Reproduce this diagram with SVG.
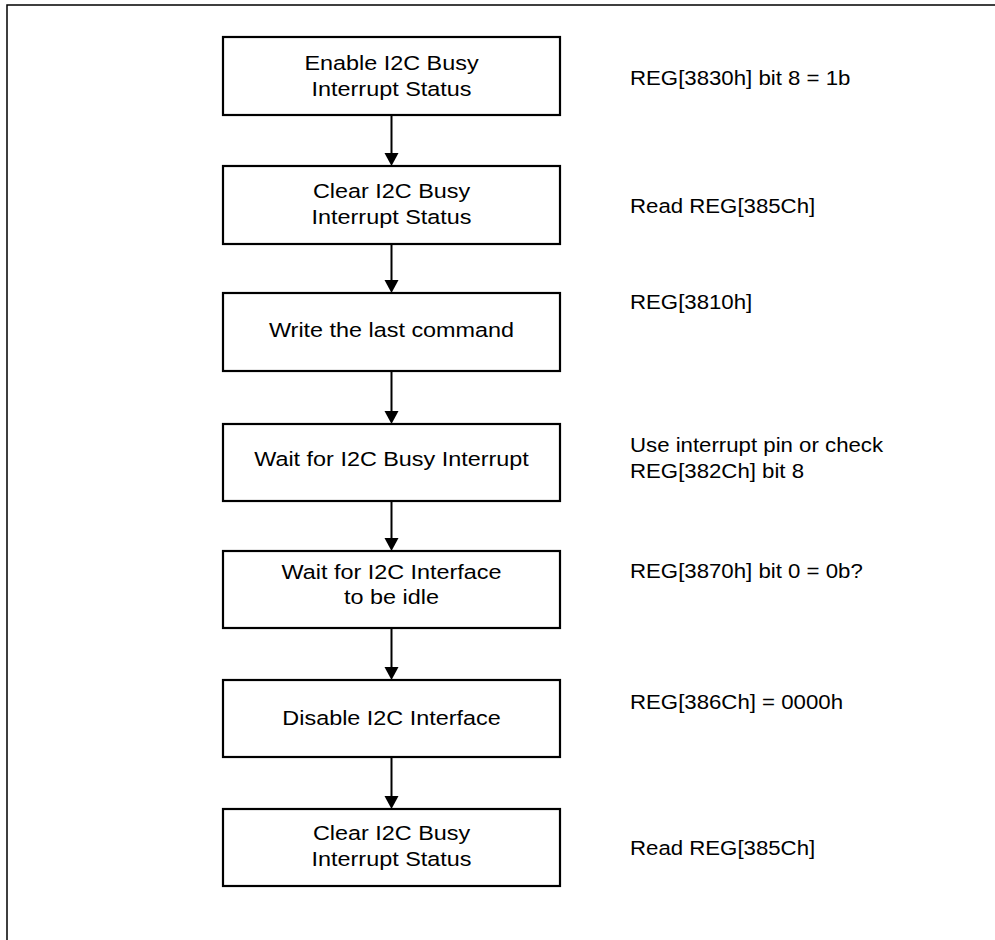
<svg xmlns="http://www.w3.org/2000/svg" width="995" height="940" viewBox="0 0 995 940">
<defs>
<style>
.box{fill:#fff;stroke:#000;stroke-width:2.2}
.t{font-family:"Liberation Sans",Arial,sans-serif;font-size:19.5px;fill:#000}
.c{text-anchor:middle}
.edge{stroke:#000;stroke-width:2;fill:none}
.head{fill:#000}
.frame{stroke:#000;stroke-width:1.5;fill:none}
</style>
</defs>
<rect width="995" height="940" fill="#fff"/>
<path class="frame" d="M7,940 L7,5 L995,5"/>

<g id="connectors">
<line class="edge" x1="391.5" y1="116" x2="391.5" y2="153"/><path class="head" d="M384.5,153 L398.5,153 L391.5,166 Z"/>
<line class="edge" x1="391.5" y1="245" x2="391.5" y2="280"/><path class="head" d="M384.5,280 L398.5,280 L391.5,293 Z"/>
<line class="edge" x1="391.5" y1="372" x2="391.5" y2="411"/><path class="head" d="M384.5,411 L398.5,411 L391.5,424 Z"/>
<line class="edge" x1="391.5" y1="502" x2="391.5" y2="538"/><path class="head" d="M384.5,538 L398.5,538 L391.5,551 Z"/>
<line class="edge" x1="391.5" y1="629" x2="391.5" y2="667"/><path class="head" d="M384.5,667 L398.5,667 L391.5,680 Z"/>
<line class="edge" x1="391.5" y1="758" x2="391.5" y2="796"/><path class="head" d="M384.5,796 L398.5,796 L391.5,809 Z"/>
</g>

<g id="n1">
<rect class="box" x="223" y="37" width="337" height="78"/>
<text class="t c" transform="translate(391.5,70) scale(1.2,1)">Enable I2C Busy</text>
<text class="t c" transform="translate(391.5,96) scale(1.2,1)">Interrupt Status</text>
</g>
<g id="n2">
<rect class="box" x="223" y="166" width="337" height="78"/>
<text class="t c" transform="translate(391.5,198) scale(1.2,1)">Clear I2C Busy</text>
<text class="t c" transform="translate(391.5,224) scale(1.2,1)">Interrupt Status</text>
</g>
<g id="n3">
<rect class="box" x="223" y="293" width="337" height="78"/>
<text class="t c" transform="translate(391.5,337) scale(1.2,1)">Write the last command</text>
</g>
<g id="n4">
<rect class="box" x="223" y="424" width="337" height="77"/>
<text class="t c" transform="translate(391.5,466) scale(1.2,1)">Wait for I2C Busy Interrupt</text>
</g>
<g id="n5">
<rect class="box" x="223" y="551" width="337" height="77"/>
<text class="t c" transform="translate(391.5,579) scale(1.2,1)">Wait for I2C Interface</text>
<text class="t c" transform="translate(391.5,604) scale(1.2,1)">to be idle</text>
</g>
<g id="n6">
<rect class="box" x="223" y="680" width="337" height="77"/>
<text class="t c" transform="translate(391.5,725) scale(1.2,1)">Disable I2C Interface</text>
</g>
<g id="n7">
<rect class="box" x="223" y="809" width="337" height="77"/>
<text class="t c" transform="translate(391.5,840) scale(1.2,1)">Clear I2C Busy</text>
<text class="t c" transform="translate(391.5,866) scale(1.2,1)">Interrupt Status</text>
</g>

<g id="notes">
<text class="t" transform="translate(630,85) scale(1.14,1)">REG[3830h] bit 8 = 1b</text>
<text class="t" transform="translate(630,213) scale(1.14,1)">Read REG[385Ch]</text>
<text class="t" transform="translate(630,309) scale(1.14,1)">REG[3810h]</text>
<text class="t" transform="translate(630,451.5) scale(1.14,1)">Use interrupt pin or check</text>
<text class="t" transform="translate(630,478) scale(1.14,1)">REG[382Ch] bit 8</text>
<text class="t" transform="translate(630,578) scale(1.14,1)">REG[3870h] bit 0 = 0b?</text>
<text class="t" transform="translate(630,709) scale(1.14,1)">REG[386Ch] = 0000h</text>
<text class="t" transform="translate(630,855) scale(1.14,1)">Read REG[385Ch]</text>
</g>
</svg>
